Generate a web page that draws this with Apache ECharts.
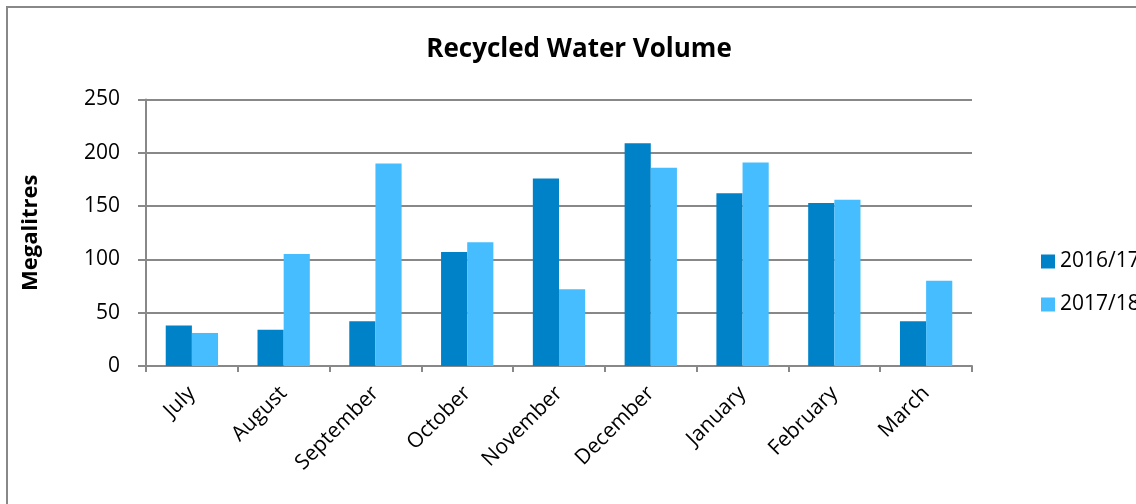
<!DOCTYPE html>
<html>
<head>
<meta charset="utf-8">
<script src="https://cdn.jsdelivr.net/npm/echarts@6/dist/echarts.min.js"></script>
<style>
  html, body { margin: 0; padding: 0; background: #fff; }
  #main { width: 1136px; height: 504px; }
</style>
</head>
<body>
<div id="main"></div>
<script>
var myChart1 = echarts.init(document.getElementById('main'));

var months = ['July', 'August', 'September', 'October', 'November', 'December', 'January', 'February', 'March'];
var vol1617 = [38, 34, 42, 107, 176, 209, 162, 153, 42];
var vol1718 = [31, 105, 190, 116, 72, 186, 191, 156, 80];
var yTicks = [0, 50, 100, 150, 200, 250];

var font = '"Open Sans", sans-serif';
var axisGrey = '#888888';

var option = {
  backgroundColor: '#fff',
  animation: false,
  title: {
    text: 'Recycled Water Volume',
    left: 574,
    top: 32,
    textAlign: 'center',
    textStyle: { fontFamily: font, fontSize: 26, fontWeight: 'bold', color: '#000' }
  },
  graphic: [{
    type: 'rect',
    shape: { x: 7, y: 7, width: 1200, height: 600 },
    style: { fill: 'none', stroke: axisGrey, lineWidth: 2 },
    silent: true
  }],
  legend: {
    orient: 'vertical',
    left: 1036,
    top: 246,
    itemWidth: 14,
    itemHeight: 14,
    itemGap: 22,
    itemStyle: { borderWidth: 0 },
    icon: 'rect',
    textStyle: { fontFamily: font, fontSize: 21, color: '#000' },
    data: ['2016/17', '2017/18']
  },
  grid: { left: 146, right: 164, top: 99.5, bottom: 138, containLabel: false },
  xAxis: {
    type: 'category',
    data: months,
    axisLine: { lineStyle: { color: axisGrey, width: 2 } },
    axisTick: { show: true, length: 6, lineStyle: { color: axisGrey, width: 2 } },
    axisLabel: { rotate: 45, margin: 24, fontFamily: font, fontSize: 21, color: '#000' }
  },
  yAxis: {
    type: 'value',
    min: yTicks[0],
    max: yTicks[yTicks.length - 1],
    interval: 50,
    name: 'Megalitres',
    nameLocation: 'middle',
    nameGap: 104,
    nameRotate: 90,
    nameTextStyle: { fontFamily: font, fontSize: 22, fontWeight: 'bold', color: '#000' },
    axisLine: { show: true, lineStyle: { color: axisGrey, width: 2 } },
    axisTick: { show: true, length: 8, lineStyle: { color: axisGrey, width: 2 } },
    axisLabel: { margin: 26, fontFamily: font, fontSize: 21, color: '#000' },
    splitLine: { lineStyle: { color: axisGrey, width: 2 } }
  },
  series: [
    {
      name: '2016/17',
      type: 'bar',
      data: vol1617,
      barGap: '0%',
      barCategoryGap: '43%',
      itemStyle: { color: '#0082C8' }
    },
    {
      name: '2017/18',
      type: 'bar',
      data: vol1718,
      itemStyle: { color: '#45BDFF' }
    }
  ]
};
myChart1.setOption(option);
</script>
</body>
</html>
